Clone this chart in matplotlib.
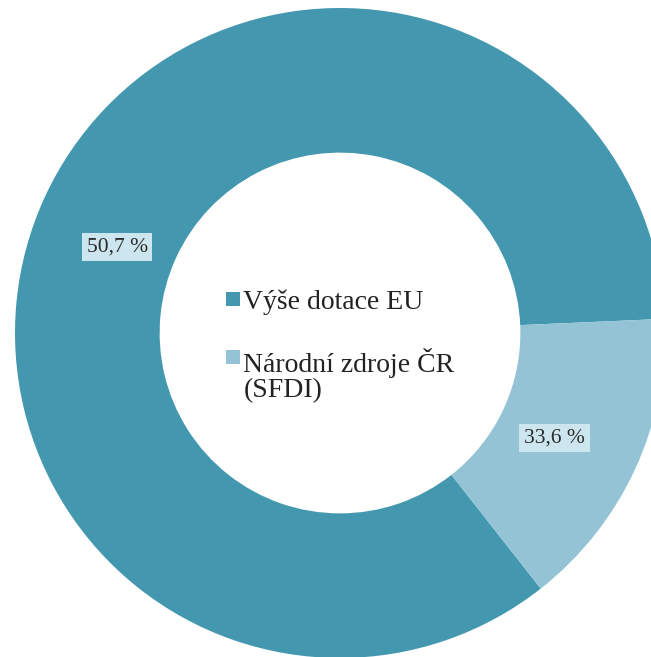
import numpy as np
import matplotlib
matplotlib.use("Agg")
import matplotlib.pyplot as plt
from matplotlib.patches import Rectangle

# =========================
# DATA
# =========================

categories = ["Výše dotace EU", "Národní zdroje ČR\n(SFDI)"]
slice_shares = [84.9, 15.1]          # share of the ring as drawn
value_labels = ["50,7 %", "33,6 %"]  # labels printed on the ring
colors = ["#4398b0", "#93c3d5"]

# =========================
# FIGURE
# =========================

plt.rcParams["font.family"] = ["Liberation Serif", "DejaVu Serif"]

fig = plt.figure(figsize=(6.51, 6.57), dpi=100)
ax = fig.add_axes([0, 0, 1, 1])

start = 2.5
wedges, _ = ax.pie(
    slice_shares,
    colors=colors,
    startangle=start,
    counterclock=True,
    radius=1.0,
    wedgeprops=dict(width=0.445, linewidth=0),
)

# labels on the ring, near each wedge's middle angle
nudges = [3.6, -1.4]
for w, lab, nd in zip(wedges, value_labels, nudges):
    mid = np.deg2rad((w.theta1 + w.theta2) / 2 + nd)
    r = 0.735
    ax.text(r * np.cos(mid), r * np.sin(mid), lab,
            ha="center", va="center", fontsize=15.5, color="#2b2b2b",
            bbox=dict(boxstyle="square,pad=0.22", fc="#cce5ee", ec="none"))

# legend inside the hole
px = 1 / 325.0
sq = 14 * px
legend_rows = [0.104, -0.075]
for lab, col, y in zip(categories, colors, legend_rows):
    ax.add_patch(Rectangle((-0.352, y - sq / 2), sq, sq, fc=col, ec="none"))
    ax.text(-0.297, y + 0.030, lab, ha="left", va="top", fontsize=20,
            color="#222222", linespacing=1.02)

# pixel-matched view: centre of ring at (340, 333) px, radius 325 px
ax.set_xlim(-340 / 325, (651 - 340) / 325)
ax.set_ylim(-(657 - 333) / 325, 333 / 325)
ax.set_aspect("auto")
ax.axis("off")

fig.savefig("out.png", dpi=100)
